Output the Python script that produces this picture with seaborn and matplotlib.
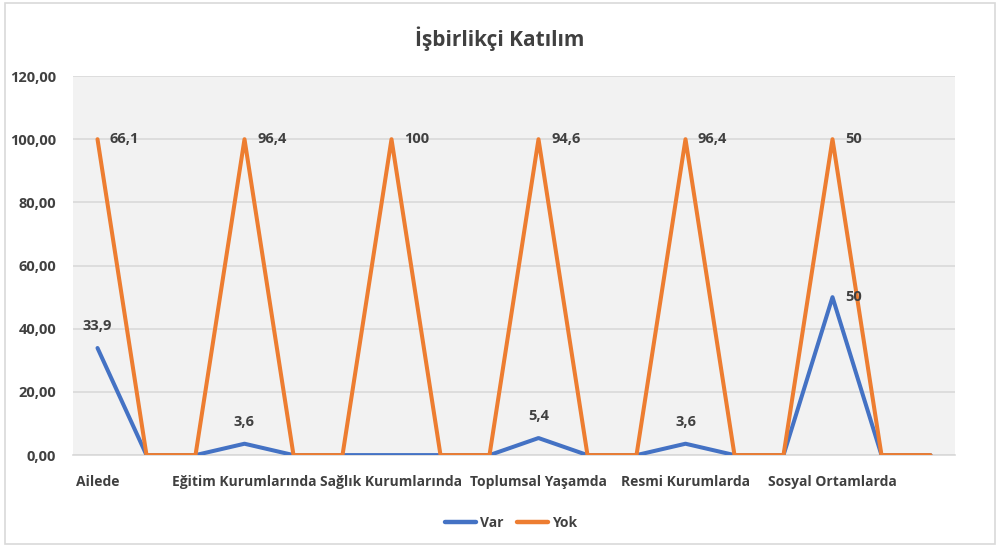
import pandas as pd
import matplotlib.pyplot as plt
import seaborn as sns
from matplotlib.patches import Rectangle

# Chart data
categories = ["Ailede", "Eğitim Kurumlarında", "Sağlık Kurumlarında",
              "Toplumsal Yaşamda", "Resmi Kurumlarda", "Sosyal Ortamlarda"]
var_values = [33.9, 0, 0, 3.6, 0, 0, 0, 0, 0, 5.4, 0, 0, 3.6, 0, 0, 50, 0, 0]
yok_values = [100, 0, 0, 100, 0, 0, 100, 0, 0, 100, 0, 0, 100, 0, 0, 100, 0, 0]
var_labels = ["33,9", "3,6", "", "5,4", "3,6", "50"]
yok_labels = ["66,1", "96,4", "100", "94,6", "96,4", "50"]
y_ticks = [0, 20, 40, 60, 80, 100, 120]

BLUE = "#4472C4"
ORANGE = "#ED7D31"
TEXT = "#404040"

sns.set_theme(style="white")
plt.rcParams['font.family'] = ['Open Sans', 'DejaVu Sans']

# Build long table for seaborn
n = len(var_values)
df = pd.DataFrame({
    "pos": list(range(n)) * 2,
    "value": var_values + yok_values,
    "series": ["Var"] * n + ["Yok"] * n,
})

fig = plt.figure(figsize=(10, 5.47), dpi=100)
ax = fig.add_axes([0.073, 0.168, 0.882, 0.693])
ax.set_facecolor("#F2F2F2")

sns.lineplot(data=df, x="pos", y="value", hue="series",
             palette={"Var": BLUE, "Yok": ORANGE}, linewidth=2.9,
             ax=ax, legend=True, zorder=3)

ax.set_xlim(-0.5, n - 0.5)
ax.set_ylim(0, 120)
ax.set_yticks(y_ticks)
ax.set_yticklabels([f"{v:.2f}".replace(".", ",") for v in y_ticks],
                   fontsize=10.5, fontweight="bold", color=TEXT)
ax.grid(axis="y", color="#D9D9D9", linewidth=1.2, zorder=0)
ax.set_axisbelow(True)

tick_pos = list(range(0, n, 3))
ax.set_xticks(tick_pos)
ax.set_xticklabels(categories, fontsize=10, fontweight="bold", color=TEXT)
ax.tick_params(axis="x", length=0, pad=14)
ax.tick_params(axis="y", length=0, pad=12)
ax.set_xlabel("")
ax.set_ylabel("")
for s in ["top", "right", "left"]:
    ax.spines[s].set_visible(False)
ax.spines["bottom"].set_color("#D9D9D9")
ax.spines["bottom"].set_linewidth(1.2)

# Data labels
for i, p in enumerate(tick_pos):
    ax.annotate(yok_labels[i], (p, yok_values[p]), xytext=(9, 0),
                textcoords="offset points", ha="left", va="center",
                fontsize=10.5, fontweight="bold", color=TEXT)
    if var_labels[i]:
        if i == len(tick_pos) - 1:
            ax.annotate(var_labels[i], (p, var_values[p]), xytext=(9, 0),
                        textcoords="offset points", ha="left", va="center",
                        fontsize=10.5, fontweight="bold", color=TEXT)
        else:
            ax.annotate(var_labels[i], (p, var_values[p]), xytext=(0, 16),
                        textcoords="offset points", ha="center", va="center",
                        fontsize=10.5, fontweight="bold", color=TEXT)

fig.text(0.5, 0.93, "İşbirlikçi Katılım", ha="center", va="center",
         fontsize=15, fontweight="bold", color=TEXT)

leg = ax.legend(loc="center", bbox_to_anchor=(0.497, -0.18), ncol=2, frameon=False,
                handlelength=2.2, columnspacing=1.0, handletextpad=0.3,
                prop={"size": 10, "weight": "bold"})
for t in leg.get_texts():
    t.set_color(TEXT)
for h in leg.get_lines():
    h.set_linewidth(3.2)

# light chart border
fig.patches.append(Rectangle((0.005, 0.005), 0.99, 0.99, transform=fig.transFigure,
                             fill=False, edgecolor="#D9D9D9", linewidth=1.2))

fig.savefig("out.png", dpi=100)
